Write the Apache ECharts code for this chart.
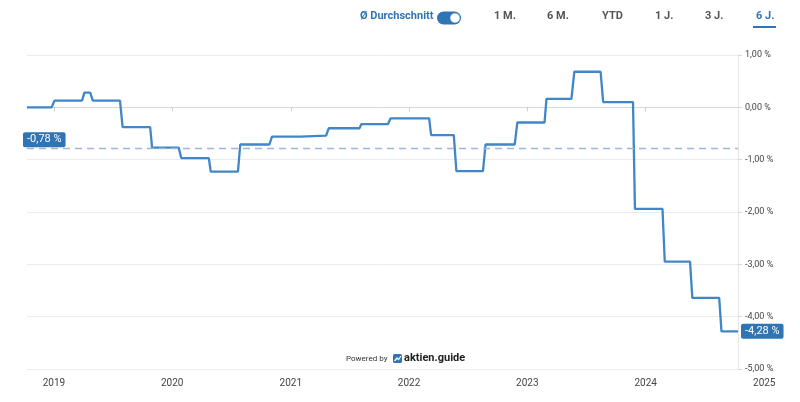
<!DOCTYPE html>
<html>
<head>
<meta charset="utf-8">
<script src="https://cdn.jsdelivr.net/npm/echarts@6/dist/echarts.min.js"></script>
<style>
html,body{margin:0;padding:0;background:#fff;}
#chart{width:800px;height:402px;}
</style>
</head>
<body>
<div id="chart"></div>
<script>
// Step levels (value in %, start date, end date)
var levelValues = [0.00, 0.13, 0.28, 0.13, -0.38, -0.77, -0.97, -1.23, -0.71, -0.56, -0.54, -0.40, -0.32, -0.21, -0.53, -1.22, -0.71, -0.29, 0.16, 0.68, 0.10, -1.94, -2.95, -3.64, -4.28];
var levelStarts = ['2018-10-10','2019-01-03','2019-04-05','2019-05-01','2019-08-01','2019-10-31','2020-01-29','2020-04-29','2020-07-29','2020-11-04','2021-02-04','2021-04-28','2021-08-07','2021-11-05','2022-03-10','2022-05-27','2022-08-25','2022-12-01','2023-03-01','2023-05-26','2023-08-23','2023-11-29','2024-02-29','2024-05-24','2024-08-22'];
var levelEnds = ['2018-12-25','2019-03-29','2019-04-23','2019-07-24','2019-10-25','2020-01-21','2020-04-23','2020-07-22','2020-10-27','2021-02-01','2021-04-20','2021-08-01','2021-10-28','2022-03-04','2022-05-19','2022-08-17','2022-11-23','2023-02-23','2023-05-17','2023-08-15','2023-11-23','2024-02-22','2024-05-17','2024-08-15','2024-10-12'];
var averageValue = -0.78;
var yTicks = [1, 0, -1, -2, -3, -4, -5];
var navItems = ['1 M.', '6 M.', 'YTD', '1 J.', '3 J.', '6 J.'];
var extraYearLabel = '2025';

function fmtPct(v) { return v.toFixed(2).replace('.', ',') + ' %'; }

var seriesData = [];
for (var i = 0; i < levelValues.length; i++) {
  seriesData.push([levelStarts[i], levelValues[i]]);
  seriesData.push([levelEnds[i], levelValues[i]]);
}

var FONT = 'Roboto, "Liberation Sans", sans-serif';
var BLUE = '#2f74b5';
var chart = echarts.init(document.getElementById('chart'), null, {renderer: 'canvas'});

var navX = [494, 547, 602, 655, 705, 756];
var graphics = [
  {type: 'text', left: 360, top: 11, style: {text: 'Ø Durchschnitt', fill: BLUE, font: 'bold 11px ' + FONT}},
  {type: 'rect', left: 437, top: 11.5, shape: {width: 24, height: 13, r: 6.5}, style: {fill: BLUE}},
  {type: 'circle', shape: {cx: 455, cy: 18, r: 5}, style: {fill: '#fff', stroke: BLUE, lineWidth: 0.5}},
  {type: 'rect', left: 753, top: 26, shape: {width: 23, height: 2}, style: {fill: BLUE}},
  {type: 'text', left: 346, top: 355, style: {text: 'Powered by', fill: '#333', font: '8px ' + FONT}},
  {type: 'rect', left: 393, top: 354, shape: {width: 9, height: 9, r: 1.5}, style: {fill: BLUE}},
  {type: 'polyline', shape: {points: [[394.5, 361], [397, 358], [398.5, 359.5], [401, 356]]}, style: {stroke: '#fff', lineWidth: 1.2, fill: null}},
  {type: 'text', left: 404, top: 353, style: {text: 'aktien.guide', fill: '#222', font: 'bold 11px ' + FONT}}
];
navItems.forEach(function (t, i) {
  graphics.push({type: 'text', left: navX[i], top: 11, style: {text: t, fill: i === navItems.length - 1 ? BLUE : '#555', font: 'bold 11px ' + FONT}});
});

var labelBox = {
  backgroundColor: BLUE, color: '#fff', fontSize: 11, fontFamily: FONT,
  lineHeight: 15, height: 15, padding: [0, 4], borderRadius: 2
};

var option = {
  animation: false,
  backgroundColor: '#fff',
  grid: {left: 27, right: 62, top: 55, bottom: 33, containLabel: false},
  xAxis: {
    type: 'time',
    min: levelStarts[0],
    max: levelEnds[levelEnds.length - 1],
    minInterval: 365 * 24 * 3600 * 1000,
    splitLine: {show: false},
    axisLine: {show: true, lineStyle: {color: '#d8d8d8', width: 1}},
    axisTick: {show: true, length: 4, lineStyle: {color: '#cccccc'}},
    axisLabel: {
      color: '#444', fontSize: 10, fontFamily: FONT, margin: 9,
      showMinLabel: false, showMaxLabel: false,
      formatter: function (v) {
        var d = new Date(v);
        return (d.getMonth() === 0 && d.getDate() === 1) ? String(d.getFullYear()) : '';
      }
    }
  },
  yAxis: {
    type: 'value',
    position: 'right',
    min: -5, max: 1, interval: 1,
    axisLine: {show: true, lineStyle: {color: '#e6e6e6'}},
    axisTick: {show: true, length: 4, lineStyle: {color: '#d8d8d8'}},
    splitLine: {show: true, lineStyle: {color: '#ebebeb', width: 1}},
    axisLabel: {color: '#444', fontSize: 9, fontFamily: FONT, margin: 7, formatter: fmtPct}
  },
  series: [{
    type: 'line',
    data: seriesData,
    symbol: 'none',
    lineStyle: {color: '#4186c6', width: 2.3},
    itemStyle: {color: '#4186c6'},
    endLabel: Object.assign({
      show: true,
      formatter: function (p) { return fmtPct(p.value[1]); },
      distance: 3
    }, labelBox),
    markLine: {
      silent: true,
      symbol: 'none',
      lineStyle: {type: [7, 5], color: '#9fb7d8', width: 1.3},
      data: [{yAxis: averageValue}],
      label: Object.assign({
        show: true, position: 'insideStartTop',
        formatter: function () { return fmtPct(averageValue); },
        distance: [-4, 1]
      }, labelBox)
    }
  }],
  graphic: graphics
};
chart.setOption(option);

// Year label beyond the axis end, positioned via the axis scale
var px = chart.convertToPixel({xAxisIndex: 0}, +new Date(extraYearLabel + '-01-01'));
var py = chart.convertToPixel({yAxisIndex: 0}, yTicks[yTicks.length - 1]);
chart.setOption({graphic: graphics.concat([{
  type: 'text', x: px, y: py + 9,
  style: {text: extraYearLabel, fill: '#444', font: '10px ' + FONT, align: 'center', verticalAlign: 'top'}
}])});
</script>
</body>
</html>
